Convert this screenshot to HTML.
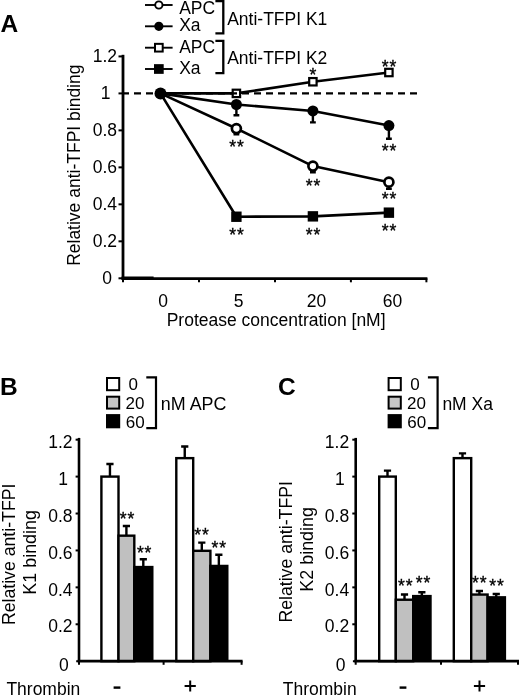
<!DOCTYPE html>
<html><head><meta charset="utf-8"><title>Figure</title>
<style>
html,body{margin:0;padding:0;background:#fff;}
body{width:520px;height:695px;overflow:hidden;}
svg{display:block;filter:grayscale(1) blur(0.3px);font-family:"Liberation Sans",sans-serif;fill:#000;}
</style></head><body>
<svg width="520" height="695" viewBox="0 0 520 695">
<rect width="520" height="695" fill="#fff"/>
<text x="0.4" y="32.2" font-size="24.5" text-anchor="start" font-weight="bold">A</text>
<path d="M123 54.8V278.3" stroke="#000" stroke-width="2.8" fill="none"/>
<path d="M121.6 278.7H427.4" stroke="#000" stroke-width="2.7" fill="none"/>
<rect x="121.6" y="276.5" width="32" height="3.5"/>
<path d="M118.5 278.30H123" stroke="#000" stroke-width="2"/>
<text x="111.9" y="284.0" font-size="17.5" text-anchor="end">0</text>
<path d="M118.5 241.32H123" stroke="#000" stroke-width="2"/>
<text x="117" y="247.02" font-size="17.5" text-anchor="end">0.2</text>
<path d="M118.5 204.34H123" stroke="#000" stroke-width="2"/>
<text x="117" y="210.04" font-size="17.5" text-anchor="end">0.4</text>
<path d="M118.5 167.36H123" stroke="#000" stroke-width="2"/>
<text x="117" y="173.06" font-size="17.5" text-anchor="end">0.6</text>
<path d="M118.5 130.38H123" stroke="#000" stroke-width="2"/>
<text x="117" y="136.08" font-size="17.5" text-anchor="end">0.8</text>
<path d="M118.5 93.40H123" stroke="#000" stroke-width="2"/>
<text x="110.6" y="99.1" font-size="17.5" text-anchor="end">1</text>
<path d="M118.5 56.42H123" stroke="#000" stroke-width="2"/>
<text x="117" y="62.12" font-size="17.5" text-anchor="end">1.2</text>
<path d="M123 278.3V282.3" stroke="#000" stroke-width="2"/>
<path d="M199 278.3V282.3" stroke="#000" stroke-width="2"/>
<path d="M275 278.3V282.3" stroke="#000" stroke-width="2"/>
<path d="M350.9 278.3V282.3" stroke="#000" stroke-width="2"/>
<path d="M426.4 278.3V282.3" stroke="#000" stroke-width="2"/>
<text x="163" y="307" font-size="17.5" text-anchor="middle">0</text>
<text x="238.5" y="307" font-size="17.5" text-anchor="middle">5</text>
<text x="316.6" y="307" font-size="17.5" text-anchor="middle">20</text>
<text x="392.5" y="307" font-size="17.5" text-anchor="middle">60</text>
<text x="166.7" y="325.5" font-size="17.5" text-anchor="start">Protease concentration [nM]</text>
<text transform="translate(79.8 165.2) rotate(-90)" font-size="17.5" text-anchor="middle">Relative anti-TFPI binding</text>
<polyline points="160.5,93.40 236.4,216.73 312.9,216.36 388.9,212.66" stroke="#000" stroke-width="2.6" fill="none" stroke-linejoin="round"/>
<polyline points="160.5,93.40 236.4,128.53 312.9,166.07 388.9,182.15" stroke="#000" stroke-width="2.6" fill="none" stroke-linejoin="round"/>
<polyline points="160.5,93.40 236.4,104.49 312.9,110.97 388.9,125.57" stroke="#000" stroke-width="2.6" fill="none" stroke-linejoin="round"/>
<polyline points="160.5,93.40 236.4,93.40 312.9,81.75 388.9,72.51" stroke="#000" stroke-width="2.6" fill="none" stroke-linejoin="round"/>
<path d="M236.4 128.53V134.5M233.5 134.3H239.3" stroke="#000" stroke-width="2.4" fill="none"/>
<path d="M312.9 166.07V172.5M310.0 172.3H315.79999999999995" stroke="#000" stroke-width="2.4" fill="none"/>
<path d="M388.9 182.15V189M386.0 188.8H391.79999999999995" stroke="#000" stroke-width="2.4" fill="none"/>
<path d="M236.4 104.49V115.5M233.5 115.3H239.3" stroke="#000" stroke-width="2.4" fill="none"/>
<path d="M312.9 110.97V122.6M310.0 122.39999999999999H315.79999999999995" stroke="#000" stroke-width="2.4" fill="none"/>
<path d="M388.9 125.57V139M386.0 138.8H391.79999999999995" stroke="#000" stroke-width="2.4" fill="none"/>
<circle cx="160.5" cy="93.40" r="6.0"/>
<rect x="231.20000000000002" y="211.53" width="10.4" height="10.4"/>
<circle cx="236.4" cy="128.53" r="4.5" fill="#fff" stroke="#000" stroke-width="2.7"/>
<circle cx="236.4" cy="104.49" r="5.5"/>
<rect x="232.70000000000002" y="89.70" width="7.4" height="7.4" fill="#fff" stroke="#000" stroke-width="2.2"/>
<rect x="307.7" y="211.16" width="10.4" height="10.4"/>
<circle cx="312.9" cy="166.07" r="4.5" fill="#fff" stroke="#000" stroke-width="2.7"/>
<circle cx="312.9" cy="110.97" r="5.5"/>
<rect x="309.2" y="78.05" width="7.4" height="7.4" fill="#fff" stroke="#000" stroke-width="2.2"/>
<rect x="383.7" y="207.46" width="10.4" height="10.4"/>
<circle cx="388.9" cy="182.15" r="4.5" fill="#fff" stroke="#000" stroke-width="2.7"/>
<circle cx="388.9" cy="125.57" r="5.5"/>
<rect x="385.2" y="68.81" width="7.4" height="7.4" fill="#fff" stroke="#000" stroke-width="2.2"/>
<path d="M122 93.30H417" stroke="#000" stroke-width="2.3" stroke-dasharray="7 5" fill="none"/>
<text x="236.9" y="152.6" font-size="17.5" text-anchor="middle" letter-spacing="0.9" stroke="#000" stroke-width="0.35">**</text>
<text x="313.4" y="192.1" font-size="17.5" text-anchor="middle" letter-spacing="0.9" stroke="#000" stroke-width="0.35">**</text>
<text x="389.4" y="205.1" font-size="17.5" text-anchor="middle" letter-spacing="0.9" stroke="#000" stroke-width="0.35">**</text>
<text x="389.4" y="157.1" font-size="17.5" text-anchor="middle" letter-spacing="0.9" stroke="#000" stroke-width="0.35">**</text>
<text x="313.4" y="80.6" font-size="17.5" text-anchor="middle" letter-spacing="0.9" stroke="#000" stroke-width="0.35">*</text>
<text x="389.4" y="72.6" font-size="17.5" text-anchor="middle" letter-spacing="0.9" stroke="#000" stroke-width="0.35">**</text>
<text x="236.9" y="241.0" font-size="17.5" text-anchor="middle" letter-spacing="0.9" stroke="#000" stroke-width="0.35">**</text>
<text x="313.4" y="241.0" font-size="17.5" text-anchor="middle" letter-spacing="0.9" stroke="#000" stroke-width="0.35">**</text>
<text x="389.4" y="236.6" font-size="17.5" text-anchor="middle" letter-spacing="0.9" stroke="#000" stroke-width="0.35">**</text>
<path d="M145 5.0H172.6" stroke="#000" stroke-width="1.9"/>
<circle cx="158.85" cy="5.0" r="3.65" fill="#fff" stroke="#000" stroke-width="1.9"/>
<path d="M145 26.3H172.6" stroke="#000" stroke-width="1.9"/>
<circle cx="158.85" cy="26.3" r="4.6"/>
<path d="M145 47.7H172.6" stroke="#000" stroke-width="1.9"/>
<rect x="155.0" y="43.85" width="7.7" height="7.7" fill="#fff" stroke="#000" stroke-width="2"/>
<path d="M145 69.0H172.6" stroke="#000" stroke-width="1.9"/>
<rect x="154.0" y="64.15" width="9.7" height="9.7"/>
<text x="179.2" y="13.8" font-size="17.5" text-anchor="start">APC</text>
<text x="179.2" y="31.4" font-size="17.5" text-anchor="start">Xa</text>
<text x="179.2" y="53.3" font-size="17.5" text-anchor="start">APC</text>
<text x="179.2" y="73.7" font-size="17.5" text-anchor="start">Xa</text>
<path d="M215.4 1H223.3V33.3H215.4" stroke="#000" stroke-width="2.3" fill="none"/>
<path d="M215.4 40.9H223.3V73.2H215.4" stroke="#000" stroke-width="2.3" fill="none"/>
<text x="227.2" y="24.6" font-size="17.5" text-anchor="start">Anti-TFPI K1</text>
<text x="227.2" y="64.2" font-size="17.5" text-anchor="start">Anti-TFPI K2</text>
<text x="0" y="395" font-size="24.5" text-anchor="start" font-weight="bold">B</text>
<path d="M109.95 476.60V464M106.35 464H113.55" stroke="#000" stroke-width="2.4" fill="none"/>
<rect x="101.4" y="476.60" width="17.099999999999994" height="184.60" fill="#fff" stroke="#000" stroke-width="2.4"/>
<path d="M126.40 535.67V526M122.80 526H130.00" stroke="#000" stroke-width="2.4" fill="none"/>
<rect x="118.5" y="535.67" width="15.800000000000011" height="125.53" fill="#c0c0c0" stroke="#000" stroke-width="2.4"/>
<text x="127.4" y="524.6" font-size="17.5" text-anchor="middle" letter-spacing="0.9" stroke="#000" stroke-width="0.35">**</text>
<path d="M143.30 567.05V559.2M139.70 559.2H146.90" stroke="#000" stroke-width="2.4" fill="none"/>
<rect x="133.10000000000002" y="565.85" width="20.4" height="95.35" fill="#000"/>
<text x="144.6" y="559.1" font-size="17.5" text-anchor="middle" letter-spacing="0.9" stroke="#000" stroke-width="0.35">**</text>
<path d="M184.75 458.14V446.5M181.15 446.5H188.35" stroke="#000" stroke-width="2.4" fill="none"/>
<rect x="176.3" y="458.14" width="16.899999999999977" height="203.06" fill="#fff" stroke="#000" stroke-width="2.4"/>
<path d="M201.80 550.81V542.6M198.20 542.6H205.40" stroke="#000" stroke-width="2.4" fill="none"/>
<rect x="193.2" y="550.81" width="17.200000000000017" height="110.39" fill="#c0c0c0" stroke="#000" stroke-width="2.4"/>
<text x="201.9" y="541.4" font-size="17.5" text-anchor="middle" letter-spacing="0.9" stroke="#000" stroke-width="0.35">**</text>
<path d="M218.85 565.95V554.8M215.25 554.8H222.45" stroke="#000" stroke-width="2.4" fill="none"/>
<rect x="209.20000000000002" y="564.75" width="19.300000000000004" height="96.45" fill="#000"/>
<text x="219.20000000000002" y="553.7" font-size="17.5" text-anchor="middle" letter-spacing="0.9" stroke="#000" stroke-width="0.35">**</text>
<path d="M79 437.9V661.2" stroke="#000" stroke-width="2.6" fill="none"/>
<path d="M77.7 661.2H242.6" stroke="#000" stroke-width="2.8" fill="none"/>
<path d="M76.2 661.20H79M79 661.20V664.80" stroke="#000" stroke-width="2" fill="none"/>
<text x="68.8" y="670.9" font-size="17.5" text-anchor="end">0</text>
<path d="M75.6 624.28H79" stroke="#000" stroke-width="2"/>
<text x="72.5" y="632.3" font-size="17.5" text-anchor="end">0.2</text>
<path d="M75.6 587.36H79" stroke="#000" stroke-width="2"/>
<text x="72.5" y="595.6" font-size="17.5" text-anchor="end">0.4</text>
<path d="M75.6 550.44H79" stroke="#000" stroke-width="2"/>
<text x="72.5" y="559.2" font-size="17.5" text-anchor="end">0.6</text>
<path d="M75.6 513.52H79" stroke="#000" stroke-width="2"/>
<text x="72.5" y="522.3" font-size="17.5" text-anchor="end">0.8</text>
<path d="M75.6 476.60H79" stroke="#000" stroke-width="2"/>
<text x="68.1" y="485.0" font-size="17.5" text-anchor="end">1</text>
<path d="M75.6 439.68H79" stroke="#000" stroke-width="2"/>
<text x="72.5" y="447.6" font-size="17.5" text-anchor="end">1.2</text>
<path d="M163.6 661.2V664.8000000000001" stroke="#000" stroke-width="2"/>
<path d="M241.6 661.2V664.8000000000001" stroke="#000" stroke-width="2"/>
<rect x="107" y="378" width="12.2" height="12.2" fill="#fff" stroke="#000" stroke-width="2"/>
<rect x="107" y="396.7" width="12.2" height="11.9" fill="#c6c6c6" stroke="#000" stroke-width="2"/>
<rect x="106" y="414.1" width="14.2" height="14.2" fill="#000"/>
<text x="133.3" y="390.3" font-size="17" text-anchor="middle">0</text>
<text x="134.9" y="409.4" font-size="17" text-anchor="middle">20</text>
<text x="135.2" y="428.1" font-size="17" text-anchor="middle">60</text>
<path d="M146.3 377.3H156V428.2H146.3" stroke="#000" stroke-width="2.2" fill="none"/>
<text x="160.8" y="410.2" font-size="17.9" text-anchor="start">nM APC</text>
<text transform="translate(14.9 554.35) rotate(-90)" font-size="17.7" text-anchor="middle">Relative anti-TFPI</text>
<text transform="translate(36.1 552.35) rotate(-90)" font-size="17.9" text-anchor="middle">K1 binding</text>
<text x="6.4" y="694.8" font-size="17.5" text-anchor="start">Thrombin</text>
<rect x="113.6" y="686.4" width="6.8" height="2.4"/>
<path d="M184.6 686H195.79999999999998M190.2 680.4V691.6" stroke="#000" stroke-width="2" fill="none"/>
<text x="278.1" y="395" font-size="24.5" text-anchor="start" font-weight="bold">C</text>
<path d="M387.50 476.60V470.6M383.90 470.6H391.10" stroke="#000" stroke-width="2.4" fill="none"/>
<rect x="379.2" y="476.60" width="16.600000000000023" height="184.60" fill="#fff" stroke="#000" stroke-width="2.4"/>
<path d="M404.50 599.73V594.5M400.90 594.5H408.10" stroke="#000" stroke-width="2.4" fill="none"/>
<rect x="395.8" y="599.73" width="17.399999999999977" height="61.47" fill="#c0c0c0" stroke="#000" stroke-width="2.4"/>
<text x="405.7" y="591.9" font-size="17.5" text-anchor="middle" letter-spacing="0.9" stroke="#000" stroke-width="0.35">**</text>
<path d="M421.85 596.09V592.2M418.25 592.2H425.45" stroke="#000" stroke-width="2.4" fill="none"/>
<rect x="412.0" y="594.89" width="19.70000000000001" height="66.31" fill="#000"/>
<text x="423.4" y="589.3" font-size="17.5" text-anchor="middle" letter-spacing="0.9" stroke="#000" stroke-width="0.35">**</text>
<path d="M462.50 458.14V453.4M458.90 453.4H466.10" stroke="#000" stroke-width="2.4" fill="none"/>
<rect x="453.8" y="458.14" width="17.399999999999977" height="203.06" fill="#fff" stroke="#000" stroke-width="2.4"/>
<path d="M479.40 594.56V591.0M475.80 591.0H483.00" stroke="#000" stroke-width="2.4" fill="none"/>
<rect x="471.2" y="594.56" width="16.400000000000034" height="66.64" fill="#c0c0c0" stroke="#000" stroke-width="2.4"/>
<text x="479.79999999999995" y="589.1" font-size="17.5" text-anchor="middle" letter-spacing="0.9" stroke="#000" stroke-width="0.35">**</text>
<path d="M496.25 597.33V594.0M492.65 594.0H499.85" stroke="#000" stroke-width="2.4" fill="none"/>
<rect x="486.40000000000003" y="596.13" width="19.699999999999953" height="65.07" fill="#000"/>
<text x="496.9" y="592.1" font-size="17.5" text-anchor="middle" letter-spacing="0.9" stroke="#000" stroke-width="0.35">**</text>
<path d="M355.7 437.9V661.2" stroke="#000" stroke-width="2.6" fill="none"/>
<path d="M354.4 661.2H519" stroke="#000" stroke-width="2.8" fill="none"/>
<path d="M352.9 661.20H355.7M355.7 661.20V664.80" stroke="#000" stroke-width="2" fill="none"/>
<text x="345.5" y="670.9" font-size="17.5" text-anchor="end">0</text>
<path d="M352.3 624.28H355.7" stroke="#000" stroke-width="2"/>
<text x="349.2" y="632.3" font-size="17.5" text-anchor="end">0.2</text>
<path d="M352.3 587.36H355.7" stroke="#000" stroke-width="2"/>
<text x="349.2" y="595.6" font-size="17.5" text-anchor="end">0.4</text>
<path d="M352.3 550.44H355.7" stroke="#000" stroke-width="2"/>
<text x="349.2" y="559.2" font-size="17.5" text-anchor="end">0.6</text>
<path d="M352.3 513.52H355.7" stroke="#000" stroke-width="2"/>
<text x="349.2" y="522.3" font-size="17.5" text-anchor="end">0.8</text>
<path d="M352.3 476.60H355.7" stroke="#000" stroke-width="2"/>
<text x="344.8" y="485.0" font-size="17.5" text-anchor="end">1</text>
<path d="M352.3 439.68H355.7" stroke="#000" stroke-width="2"/>
<text x="349.2" y="447.6" font-size="17.5" text-anchor="end">1.2</text>
<path d="M441 661.2V664.8000000000001" stroke="#000" stroke-width="2"/>
<path d="M518 661.2V664.8000000000001" stroke="#000" stroke-width="2"/>
<rect x="388.6" y="378" width="12.2" height="12.2" fill="#fff" stroke="#000" stroke-width="2"/>
<rect x="388.6" y="396.7" width="12.2" height="11.9" fill="#c6c6c6" stroke="#000" stroke-width="2"/>
<rect x="387.6" y="414.1" width="14.2" height="14.2" fill="#000"/>
<text x="414.90000000000003" y="390.3" font-size="17" text-anchor="middle">0</text>
<text x="416.5" y="409.4" font-size="17" text-anchor="middle">20</text>
<text x="416.8" y="428.1" font-size="17" text-anchor="middle">60</text>
<path d="M427.90000000000003 377.3H437.6V428.2H427.90000000000003" stroke="#000" stroke-width="2.2" fill="none"/>
<text x="442.40000000000003" y="410.2" font-size="17.5" text-anchor="start">nM Xa</text>
<text transform="translate(292.2 551.85) rotate(-90)" font-size="17.7" text-anchor="middle">Relative anti-TFPI</text>
<text transform="translate(313.4 549.35) rotate(-90)" font-size="17.9" text-anchor="middle">K2 binding</text>
<text x="282.8" y="694.8" font-size="17.5" text-anchor="start">Thrombin</text>
<rect x="399.6" y="686.4" width="6.8" height="2.4"/>
<path d="M473.9 686H485.1M479.5 680.4V691.6" stroke="#000" stroke-width="2" fill="none"/>
</svg>
</body></html>
